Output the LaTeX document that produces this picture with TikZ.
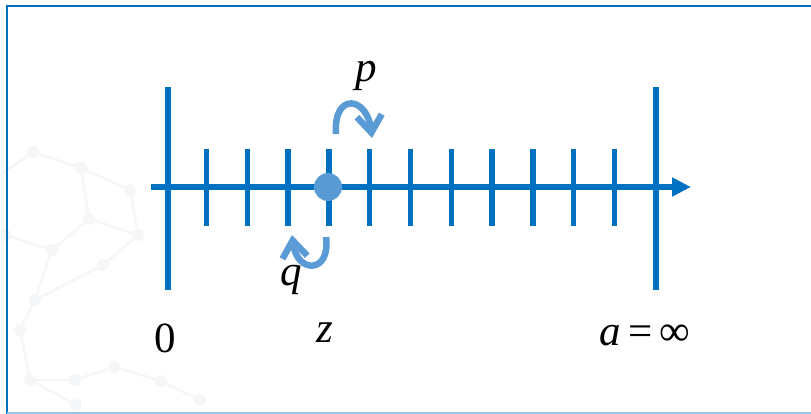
\documentclass[tikz,border=0pt]{standalone}
\usepackage{fontspec}
\setmainfont{Liberation Serif}
\usetikzlibrary{arrows.meta}
\definecolor{axisblue}{HTML}{0070C0}
\definecolor{lightblue}{HTML}{5B9BD5}
\definecolor{hexgray}{HTML}{E6E9EE}
\tikzset{
  axisline/.style={draw=axisblue,line width=5.5pt},
  bigtick/.style={draw=axisblue,line width=5.5pt},
  smalltick/.style={draw=axisblue,line width=5.5pt},
  turnarrow/.style={draw=lightblue,line width=6.5pt,-{Straight Barb[length=17pt,width=25pt]}},
  lbl/.style={font=\fontsize{43}{50}\selectfont,inner sep=0pt,text=black},
  hexline/.style={draw=hexgray,line width=2.5pt},
  hexnode/.style={circle,fill=hexgray,inner sep=0pt,minimum size=12pt}
}
\begin{document}
\begin{tikzpicture}[x=1pt,y=-1pt]
\useasboundingbox (0,0) rectangle (811,414);
\fill[white] (0,0) rectangle (811,414);
% faint decorative hexagon network
\begin{scope}[opacity=0.4]
\node[hexnode] (h1) at (33,152) {};
\node[hexnode] (h2) at (81,168) {};
\node[hexnode] (h3) at (89,219) {};
\node[hexnode] (h4) at (52,250) {};
\node[hexnode] (h5) at (5,235) {};
\node[hexnode] (h6) at (130,190) {};
\node[hexnode] (h7) at (138,235) {};
\node[hexnode] (h8) at (103,265) {};
\node[hexnode] (h9) at (20,330) {};
\node[hexnode] (h10) at (30,380) {};
\node[hexnode] (h11) at (76,405) {};
\node[hexnode] (h12) at (114,367) {};
\node[hexnode] (h13) at (161,381) {};
\node[hexnode] (h14) at (75,380) {};
\node[hexnode] (h15) at (200,400) {};
\node[hexnode] (h16) at (35,300) {};
\draw[hexline] (h1)--(h2)--(h3)--(h4)--(h5);
\draw[hexline] (h2)--(h6)--(h7)--(h3);
\draw[hexline] (h4)--(h16)--(h9)--(h10)--(h11);
\draw[hexline] (h14)--(h12)--(h13)--(h15);
\draw[hexline] (h14)--(h10);
\draw[hexline] (h16)--(h8)--(h7);
\draw[hexline] (h1)--(0,175);
\end{scope}
% frame
\draw[axisblue,line width=2pt] (7,414) -- (7,6) -- (811,6);
\draw[lightblue!60,line width=1.5pt] (7,413) -- (811,413);
% axis
\coordinate (axstart) at (151,187);
\coordinate (axend) at (691,187);
\draw[axisline,-{Triangle[length=19pt,width=18pt]}] (axstart) -- (axend);
% big ticks
\coordinate (b0t) at (168,87); \coordinate (b0b) at (168,290);
\coordinate (b1t) at (656,87); \coordinate (b1b) at (656,290);
\draw[bigtick] (b0t) -- (b0b);
\draw[bigtick] (b1t) -- (b1b);
% small ticks
\foreach \i in {0,...,10}{
  \coordinate (st\i) at ({206.5+40.8*\i},149);
  \coordinate (sb\i) at ({206.5+40.8*\i},226);
  \draw[smalltick] (st\i) -- (sb\i);
}
% point z
\node[circle,fill=lightblue,minimum size=28pt,inner sep=0pt] (zdot) at (328,187) {};
% turning arrows
\coordinate (ps) at (336,134);
\coordinate (pe) at (372,138);
\draw[turnarrow] (ps) .. controls (333,92) and (367,96) .. (pe);
\coordinate (qs) at (326,237);
\coordinate (qe) at (292,235);
\draw[turnarrow] (qs) .. controls (331,274) and (297,274) .. (qe);
% labels
\node[lbl] (lp) at (366,76) {\textit{p}};
\node[lbl] (lq) at (291,280) {\textit{q}};
\node[lbl] (l0) at (165,338) {0};
\node[lbl] (lz) at (325,333) {\textit{z}};
\node[lbl] (la) at (645,335) {\textit{a}\,=\,∞};
\end{tikzpicture}
\end{document}
